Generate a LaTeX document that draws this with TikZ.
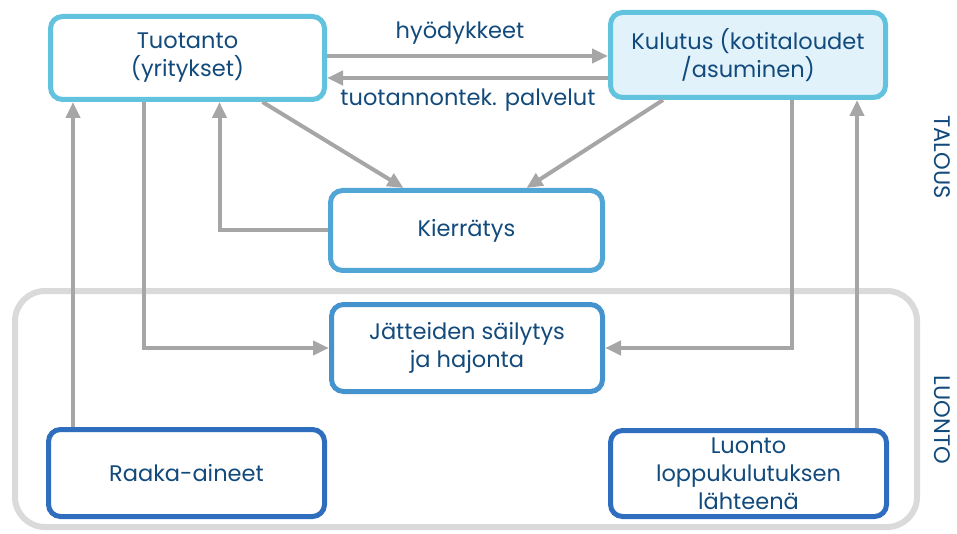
\documentclass[tikz,border=0pt]{standalone}
\usepackage{fontspec}
\setmainfont{Poppins}
\usetikzlibrary{arrows.meta,positioning}
\definecolor{txtblue}{HTML}{124A7C}
\definecolor{cyanline}{HTML}{62C3DE}
\definecolor{cyanfill}{HTML}{E1F2FA}
\definecolor{midline}{HTML}{52A6D6}
\definecolor{waste}{HTML}{4493CF}
\definecolor{deepline}{HTML}{2F6DBE}
\definecolor{arrgray}{HTML}{A6A6A6}
\definecolor{framegray}{HTML}{DADADA}
\begin{document}
\begin{tikzpicture}[
    x=1pt, y=-1pt,
    box/.style={draw,rounded corners=12pt,line width=5pt,fill=white,align=center,
        text=txtblue,font=\fontsize{22.5}{28}\selectfont,inner sep=2pt},
    arr/.style={-{Triangle[length=16pt,width=14pt]},line width=4pt,draw=arrgray},
    lbl/.style={text=txtblue,font=\fontsize{22.5}{26}\selectfont,inner sep=0pt}
]
\useasboundingbox (0,0) rectangle (957,534);
% luonto frame
\draw[framegray,line width=6pt,rounded corners=30pt] (15,291) rectangle (917,527);
\node[lbl,rotate=-90] (talous) at (942,157) {TALOUS};
\node[lbl,rotate=-90] (luontolbl) at (942,420) {LUONTO};
% boxes
\node[box,draw=cyanline,minimum width=274pt,minimum height=83pt] (tuot) at (187.5,58) {Tuotanto\\(yritykset)};
\node[box,draw=cyanline,fill=cyanfill,minimum width=275pt,minimum height=85pt] (kul) at (748,55) {Kulutus (kotitaloudet\\/asuminen)};
\node[box,draw=midline,minimum width=272pt,minimum height=80pt] (kier) at (466.5,230.5) {Kierrätys};
\node[box,draw=waste,minimum width=271pt,minimum height=87pt] (jat) at (467,348) {Jätteiden säilytys\\ja hajonta};
\node[box,draw=deepline,minimum width=276pt,minimum height=87pt] (raaka) at (186.5,473) {Raaka-aineet};
\node[box,draw=deepline,minimum width=276pt,minimum height=86pt] (luonto) at (748.5,473.5) {Luonto\\loppukulutuksen\\lähteenä};
% flows
\draw[arr] ([yshift=2pt]tuot.east) -- ([yshift=2pt]tuot.east -| kul.west);
\draw[arr] ([yshift=-20pt]tuot.east -| kul.west) -- ([yshift=-20pt]tuot.east);
\node[lbl] (hyod) at (460,33) {hyödykkeet};
\node[lbl] (palv) at (468,100) {tuotannontek. palvelut};
\draw[arr] ([xshift=75pt]tuot.south) -- ([xshift=-63pt]kier.north);
\draw[arr] ([xshift=-85pt]kul.south) -- ([xshift=60pt]kier.north);
\draw[arr] (kier.west) -| ([xshift=32pt]tuot.south);
\draw[arr] ([xshift=-113.5pt]raaka.north) -- ([xshift=-113.5pt]raaka.north |- tuot.south);
\draw[arr] ([xshift=-43.5pt]tuot.south) |- (jat.west);
\draw[arr] ([xshift=44pt]kul.south) |- (jat.east);
\draw[arr] ([xshift=108.5pt]luonto.north) -- ([xshift=108.5pt]luonto.north |- kul.south);
\end{tikzpicture}
\end{document}
